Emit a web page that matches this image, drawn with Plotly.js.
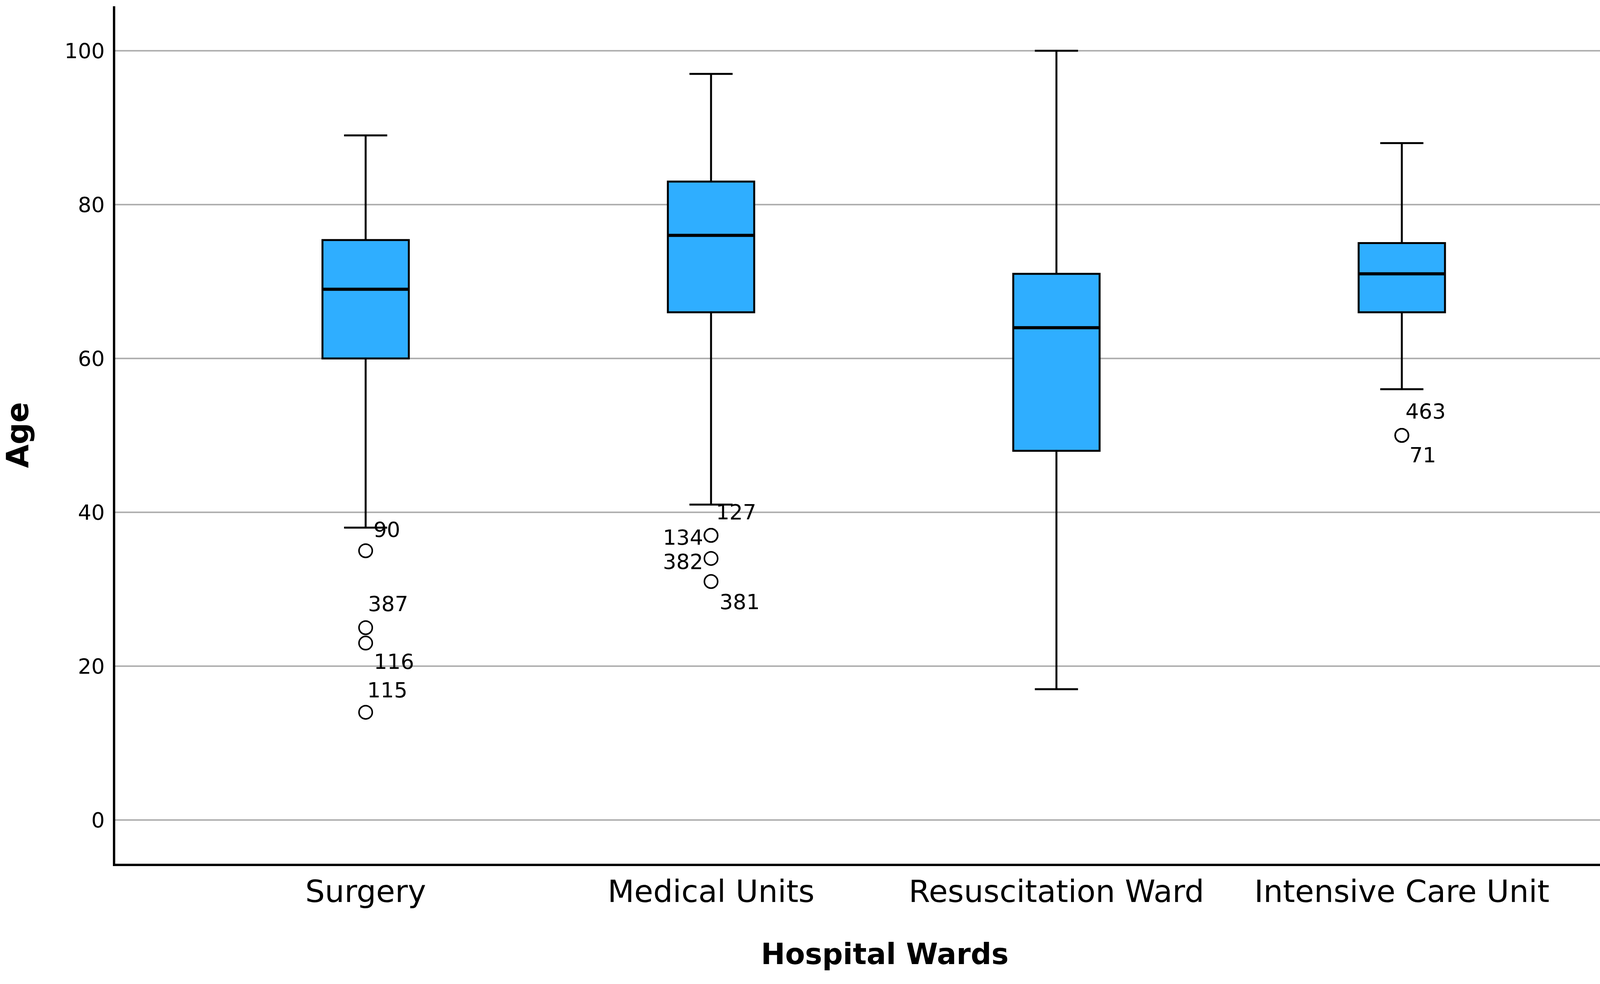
<!DOCTYPE html>
<html>
<head>
<meta charset="utf-8">
<script src="https://cdn.plot.ly/plotly-3.0.1.min.js"></script>
<style>
  html, body { margin: 0; padding: 0; background: #ffffff; }
  #chart { width: 4266px; height: 2520px; }
</style>
</head>
<body>
<div id="chart"></div>
<script>
// ---- data ----
const wards = ["Surgery", "Medical Units", "Resuscitation Ward", "Intensive Care Unit"];
const lowerWhisker = [38, 41, 17, 56];
const q1Values = [60, 66, 48, 66];
const medianValues = [69, 76, 64, 71];
const q3Values = [75.4, 83, 71, 75];
const upperWhisker = [89, 97, 100, 88];

// outliers: ward, age, case id
const outlierWard = ["Surgery", "Surgery", "Surgery", "Surgery",
                     "Medical Units", "Medical Units", "Medical Units", "Medical Units",
                     "Intensive Care Unit", "Intensive Care Unit"];
const outlierAge = [35, 25, 23, 14, 37, 37, 34, 31, 50, 50];
const outlierId = ["90", "387", "116", "115", "127", "134", "382", "381", "463", "71"];

// ---- label placement (pixel offsets, styling only) ----
const labelShiftX = [54, 57, 72, 55, 64, -72, -72, 73, 61, 54];
const labelShiftY = [54, 61, -48, 57, 60, -5, -8, -52, 61, -51];

const FONT = "DejaVu Sans, Verdana, sans-serif";
const BOX_W = 0.25;

const boxTrace = {
  type: "box",
  x: wards,
  q1: q1Values,
  median: medianValues,
  q3: q3Values,
  lowerfence: lowerWhisker,
  upperfence: upperWhisker,
  width: BOX_W,
  whiskerwidth: 0.5,
  boxpoints: false,
  fillcolor: "#2FAEFF",
  line: { color: "#000000", width: 5 },
  hoverinfo: "skip",
  showlegend: false
};

const outlierTrace = {
  type: "scatter",
  mode: "markers",
  x: outlierWard,
  y: outlierAge,
  marker: { symbol: "circle-open", size: 34, color: "#000000", line: { width: 4, color: "#000000" } },
  hoverinfo: "skip",
  showlegend: false
};

const annotations = outlierId.map((id, i) => ({
  x: outlierWard[i],
  y: outlierAge[i],
  xref: "x",
  yref: "y",
  text: id,
  showarrow: false,
  xshift: labelShiftX[i],
  yshift: labelShiftY[i],
  font: { family: FONT, size: 54, color: "#000000" }
}));

// thicker median lines drawn from the median array
const shapes = medianValues.map((m, i) => ({
  type: "line",
  xref: "x",
  yref: "y",
  x0: i - BOX_W / 2,
  x1: i + BOX_W / 2,
  y0: m,
  y1: m,
  line: { color: "#000000", width: 8 },
  layer: "above"
}));

const layout = {
  width: 4266,
  height: 2520,
  margin: { l: 295, r: 31, t: 16, b: 308 },
  paper_bgcolor: "#ffffff",
  plot_bgcolor: "#ffffff",
  showlegend: false,
  font: { family: FONT, color: "#000000" },
  xaxis: {
    type: "category",
    categoryorder: "array",
    categoryarray: wards,
    range: [-0.725, 3.731],
    showgrid: false,
    zeroline: false,
    showline: true,
    linecolor: "#000000",
    linewidth: 6,
    ticks: "",
    ticklabelstandoff: -3,
    tickfont: { family: FONT, size: 79, color: "#000000" },
    title: {
      text: "Hospital Wards",
      font: { family: FONT, size: 74, color: "#000000", weight: "bold" },
      standoff: 91
    },
    automargin: false,
    fixedrange: true
  },
  yaxis: {
    range: [-5.69, 105.79],
    tickmode: "array",
    tickvals: [0, 20, 40, 60, 80, 100],
    ticktext: ["0", "20", "40", "60", "80", "100"],
    showgrid: true,
    gridcolor: "#b0b0b0",
    gridwidth: 4.5,
    zeroline: false,
    showline: true,
    linecolor: "#000000",
    linewidth: 6,
    ticks: "",
    ticklabelstandoff: 10,
    tickfont: { family: FONT, size: 54, color: "#000000" },
    title: {
      text: "Age",
      font: { family: FONT, size: 78, color: "#000000", weight: "bold" },
      standoff: 70
    },
    automargin: false,
    fixedrange: true
  },
  annotations: annotations,
  shapes: shapes
};

Plotly.newPlot("chart", [boxTrace, outlierTrace], layout, { staticPlot: true, displayModeBar: false });
</script>
</body>
</html>
